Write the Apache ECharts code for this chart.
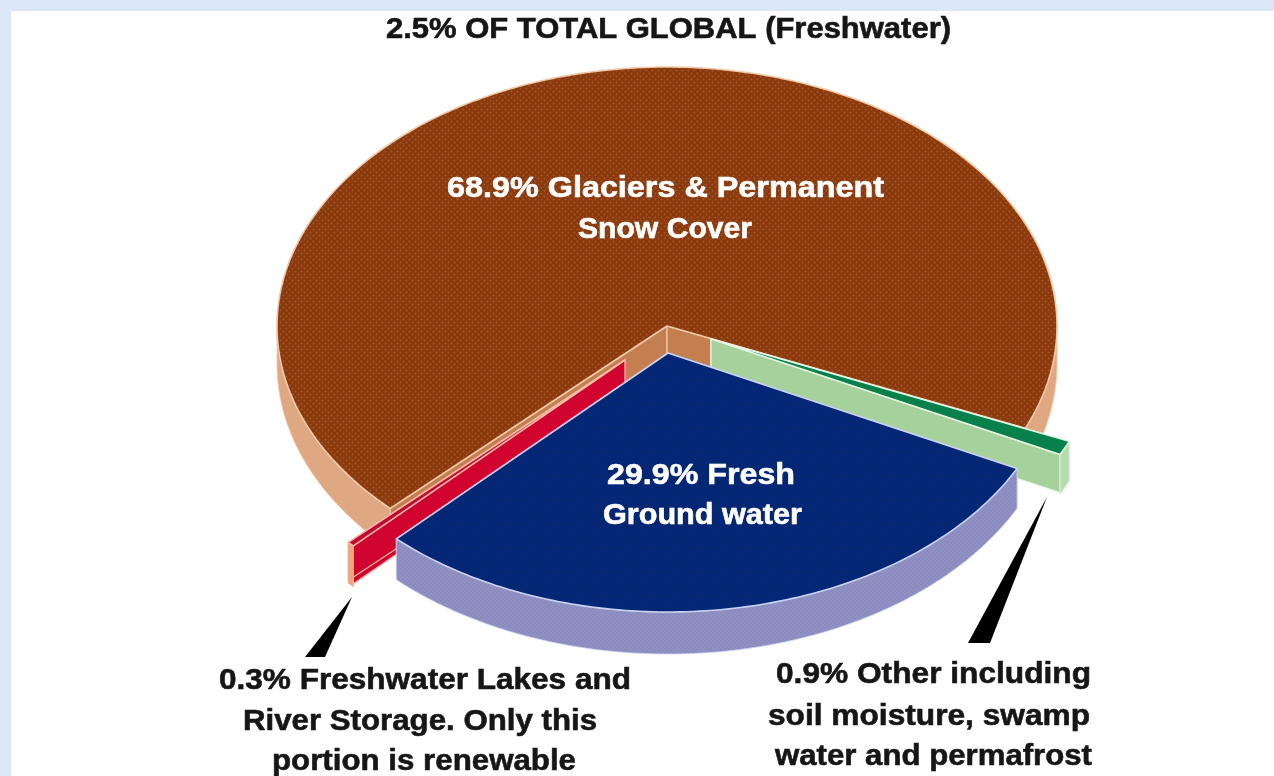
<!DOCTYPE html>
<html><head><meta charset="utf-8">
<style>html,body{margin:0;padding:0;background:#dce8f8}#c{width:1274px;height:776px}</style>
<script src="https://cdn.jsdelivr.net/npm/echarts@6/dist/echarts.min.js"></script>
</head><body><div id="c"></div>
<script>
// ---- data ----
var categories = ['Fresh Ground water', 'Freshwater Lakes and River Storage', 'Glaciers & Permanent Snow Cover', 'Other'];
var shares = [29.9, 0.3, 68.9, 0.9];
var titleText = '2.5% OF TOTAL GLOBAL (Freshwater)';
var glacierLabel = ['68.9% Glaciers & Permanent', 'Snow Cover'];
var groundLabel = ['29.9% Fresh', 'Ground water'];
var lakesLabel = ['0.3% Freshwater Lakes and', 'River Storage. Only this', 'portion is renewable'];
var otherLabel = ['0.9% Other including', 'soil moisture, swamp', 'water and permafrost'];

// ---- look ----
var FONT = '"Liberation Sans", Arial, sans-serif';
var START = 26.5, CX = 667, CY = 326, A = 390, B = 259, H = 38, BX = 4;
function dotted(base, dot, size) {
  var s = size || 6, c = document.createElement('canvas'); c.width = s; c.height = s;
  var g = c.getContext('2d'); g.fillStyle = base; g.fillRect(0, 0, s, s); g.fillStyle = dot;
  [[s * .25, s * .25], [s * .75, s * .75]].forEach(function (p) { g.beginPath(); g.arc(p[0], p[1], s * .17, 0, 7); g.fill(); });
  return { image: c, repeat: 'repeat' };
}
var looks = [
  { dx: 1, dy: 27, top: dotted('#04296e', '#0a1f94'), cut: '#8f8fc2', outer: dotted('#9190c4', '#7f86b4', 4), edge: '#c9d2f2' },
  { dx: -42, dy: 34, top: '#c20a32', cut: '#d0042f', outer: '#eda878', edge: '#f6b9a8' },
  { dx: 0, dy: 0, top: dotted('#8a3a10', '#a8581e'), cut: '#c47f50', outer: '#e0a783', edge: '#f2c9a8' },
  { dx: 44, dy: 13, top: '#07804c', cut: '#a6d19b', outer: '#b6dcae', edge: '#e8f4e4' }
];
var drawOrder = [2, 3, 1, 0];
var starts = [], acc = START;
shares.forEach(function (v) { starts.push(acc); acc += v * 3.6; });

function rim(t, ox, oy, dropA, drop) {
  var r = t * Math.PI / 180;
  return [CX + ox + A * Math.cos(r), CY + oy + (B + dropA) * Math.sin(r) + drop];
}
function arcPts(t0, t1, ox, oy, dropA, drop) {
  var n = Math.max(2, Math.ceil((t1 - t0) / 1)), out = [];
  for (var i = 0; i <= n; i++) out.push(rim(t0 + (t1 - t0) * i / n, ox, oy, dropA, drop));
  return out;
}
function poly(points, fill, stroke, lw) {
  return { type: 'polygon', shape: { points: points }, style: { fill: fill, stroke: stroke || null, lineWidth: lw || 0, lineJoin: 'round' } };
}
function renderSlice(params, api) {
  var i = api.value(0), L = looks[i], t0 = starts[i], t1 = t0 + shares[i] * 3.6;
  var ax = CX + L.dx, ay = CY + L.dy, kids = [];
  // cut walls
  var p0 = rim(t0, L.dx, L.dy, 0, 0), p1 = rim(t1, L.dx, L.dy, 0, 0);
  [p0, p1].forEach(function (p) {
    kids.push(poly([[ax, ay], p, [p[0], p[1] + H], [ax, ay + H]], L.cut, L.edge, 1.2));
  });
  // visible outer wall: the front half of the ellipse
  [[t0, Math.min(t1, 180)], [Math.max(360, t0), t1]].forEach(function (r) {
    if (r[1] <= r[0]) return;
    var upper = arcPts(r[0], r[1], L.dx, L.dy, 0, 0), lower = arcPts(r[0], r[1], L.dx, L.dy, BX, H);
    kids.push(poly(upper.concat(lower.reverse()), L.outer, L.edge, 0.8));
  });
  // top face
  kids.push(poly([[ax, ay]].concat(arcPts(t0, t1, L.dx, L.dy, 0, 0)), L.top, L.edge, 1.6));
  return { type: 'group', children: kids };
}
var meter = document.createElement('canvas').getContext('2d');
function textEl(str, x0, x1, y, color, size) {
  var font = 'bold ' + size + 'px ' + FONT;
  meter.font = font;
  return { type: 'text', x: (x0 + x1) / 2, y: y, scaleX: (x1 - x0) / meter.measureText(str).width,
    style: { text: str, fill: color, stroke: color, lineWidth: 0.6, font: font, align: 'center', verticalAlign: 'middle' }, z: 20 };
}
function textBlock(lines, spans, ys, color, size) {
  return lines.map(function (s, i) { return textEl(s, spans[i][0], spans[i][1], ys[i], color, size); });
}
var pointers = [
  [[352, 597], [305, 657], [325, 657]],
  [[1047, 497], [968, 643], [990, 643]]
];
var chart = echarts.init(document.getElementById('c'), null, { renderer: 'canvas' });
chart.setOption({
  backgroundColor: '#dce8f8',
  animation: false,
  graphic: [
    { type: 'rect', shape: { x: 11, y: 11, width: 1263, height: 765 }, style: { fill: '#ffffff' }, z: -10 }
  ].concat(pointers.map(function (p) { return poly(p, '#000000'); }))
   .concat([textEl(titleText, 386, 951, 30, '#161616', 29)])
   .concat(textBlock(glacierLabel, [[447, 884], [578, 752]], [189, 230], '#ffffff', 30))
   .concat(textBlock(groundLabel, [[607, 795], [603, 802]], [476, 516], '#ffffff', 30))
   .concat(textBlock(lakesLabel, [[219, 631], [243, 597], [272, 576]], [681, 722, 762], '#161616', 30))
   .concat(textBlock(otherLabel, [[776, 1091], [768, 1090], [775, 1092]], [675, 717, 757], '#161616', 30)),
  series: [{
    type: 'custom', silent: true, clip: false,
    coordinateSystem: 'none',
    renderItem: renderSlice,
    data: drawOrder.map(function (i) { return { name: categories[i], value: [i, shares[i]] }; })
  }]
});
</script></body></html>
